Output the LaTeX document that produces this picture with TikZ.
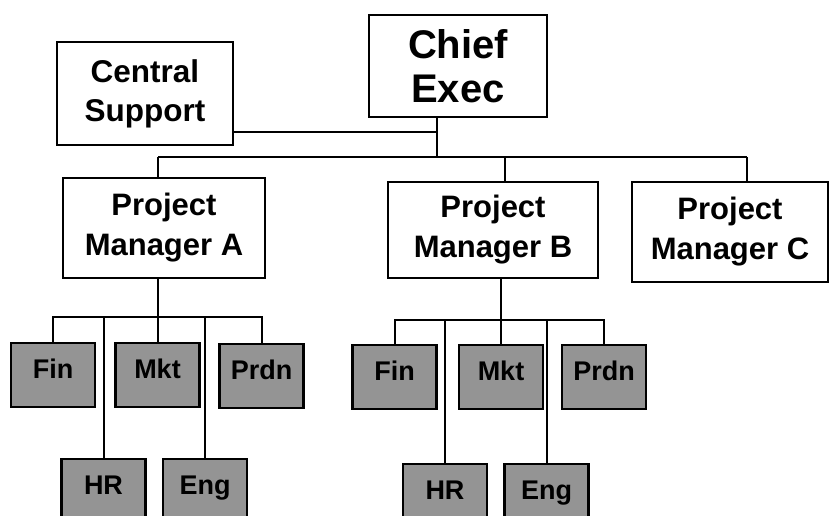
\documentclass[tikz,border=0pt]{standalone}
\usepackage{fontspec}
\setmainfont{Liberation Sans}
\begin{document}
\begin{tikzpicture}[x=1pt,y=-1pt,
  bigbox/.style={draw=black,line width=1.8pt,fill=white,align=center,inner sep=0pt,font=\bfseries\fontsize{31.5}{39}\selectfont},
  ceobox/.style={bigbox,font=\bfseries\fontsize{40}{44}\selectfont},
  pmbox/.style={bigbox,font=\bfseries\fontsize{31}{40}\selectfont},
  dept/.style={draw=black,line width=2.6pt,fill=black!42,inner sep=0pt,minimum width=84pt,minimum height=64pt,text height=20pt,text depth=14pt,font=\bfseries\fontsize{27}{30}\selectfont},
  conn/.style={draw=black,line width=2pt}]
\useasboundingbox (0,0) rectangle (831,516);
% top level
\node[bigbox,minimum width=176pt,minimum height=103pt] (cs) at (145,93.5) {Central\\Support};
\node[ceobox,minimum width=178pt,minimum height=102pt] (ceo) at (458,66) {Chief\\Exec};
% project managers
\node[pmbox,minimum width=202pt,minimum height=100pt] (pma) at (164,228) {Project\\Manager A};
\node[pmbox,minimum width=210pt,minimum height=96pt] (pmb) at (493,230) {Project\\Manager B};
\node[pmbox,minimum width=196pt,minimum height=100pt] (pmc) at (730,232) {Project\\Manager C};
% departments A
\node[dept] (fina) at (53,375) {Fin};
\node[dept] (mkta) at (157.5,375) {Mkt};
\node[dept] (prdna) at (261.5,376) {Prdn};
\node[dept] (hra) at (103.5,491) {HR};
\node[dept] (enga) at (205,491) {Eng};
% departments B
\node[dept] (finb) at (394.5,377) {Fin};
\node[dept] (mktb) at (501,377) {Mkt};
\node[dept] (prdnb) at (604,377) {Prdn};
\node[dept] (hrb) at (445,496) {HR};
\node[dept] (engb) at (546.5,496) {Eng};
% top connectors
\coordinate (ceoJ) at (437,157);
\coordinate (csJ) at (437,132);
\coordinate (busL) at (158,157);
\coordinate (bJ) at (505,157);
\coordinate (busR) at (747,157);
\draw[conn] (ceo.south -| ceoJ) -- (ceoJ);
\draw[conn] (cs.east |- csJ) -- (csJ);
\draw[conn] (busL) -- (busR);
\draw[conn] (busL) -- (pma.north -| busL);
\draw[conn] (bJ) -- (pmb.north -| bJ);
\draw[conn] (busR) -- (pmc.north -| busR);
% subtree A
\coordinate (aBus) at (0,317);
\draw[conn] (pma.south -| mkta.north) -- (mkta.north);
\draw[conn] (fina.north) -- (fina.north |- aBus) -- (prdna.north |- aBus) -- (prdna.north);
\draw[conn] (hra.north) -- (hra.north |- aBus);
\draw[conn] (enga.north) -- (enga.north |- aBus);
% subtree B
\coordinate (bBus) at (0,320);
\draw[conn] (pmb.south -| mktb.north) -- (mktb.north);
\draw[conn] (finb.north) -- (finb.north |- bBus) -- (prdnb.north |- bBus) -- (prdnb.north);
\draw[conn] (hrb.north) -- (hrb.north |- bBus);
\draw[conn] (engb.north) -- (engb.north |- bBus);
\end{tikzpicture}
\end{document}
